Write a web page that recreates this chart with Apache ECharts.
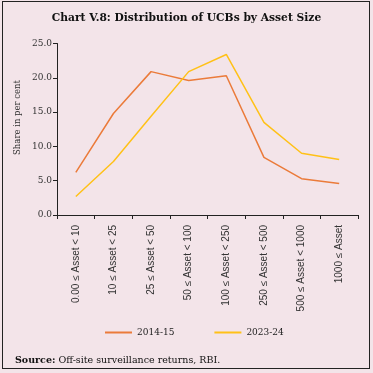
<!DOCTYPE html>
<html><head><meta charset="utf-8">
<script src="https://cdn.jsdelivr.net/npm/echarts@6/dist/echarts.min.js"></script>
<style>
html,body{margin:0;padding:0;background:#f3e4e9;}
#wrap{position:absolute;left:2px;top:1px;width:366px;height:366px;border:1px solid #222;box-sizing:content-box;}
#c{position:absolute;left:0;top:0;width:373px;height:373px;}
</style></head>
<body>
<div id="wrap"></div>
<div id="c"></div>
<script>
const categories = ["0.00 ≤ Asset < 10","10 ≤ Asset < 25","25 ≤ Asset < 50","50 ≤ Asset < 100","100 ≤ Asset < 250","250 ≤ Asset < 500","500 ≤ Asset < 1000","1000 ≤ Asset"];
const series2014 = [6.2, 14.8, 20.9, 19.6, 20.3, 8.4, 5.3, 4.6];
const series2023 = [2.7, 7.8, 14.4, 20.9, 23.4, 13.5, 9.0, 8.1];
const yTicks = [0,5,10,15,20,25];

const chart = echarts.init(document.getElementById('c'));
chart.setOption({
  backgroundColor: 'transparent',
  animation: false,
  title: [
    {text: 'Chart V.8: Distribution of UCBs by Asset Size', left: 'center', top: 8,
     textStyle: {fontFamily: 'DejaVu Serif', fontWeight: 'bold', fontSize: 10.7, color: '#111'}},
    {text: '{b|Source:} Off-site surveillance returns, RBI.', left: 10, top: 351,
     textStyle: {rich: {b: {fontFamily: 'DejaVu Serif', fontWeight: 'bold', fontSize: 9.5, color: '#111'}},
       fontFamily: 'DejaVu Serif', fontSize: 9.5, color: '#111', fontWeight: 'normal'}}
  ],
  graphic: [
    {type: 'text', x: 18, y: 117.5, rotation: Math.PI/2,
     style: {text: 'Share in per cent', fontFamily: 'DejaVu Serif', fontSize: 8.5, fill: '#333',
       align: 'center', verticalAlign: 'middle'}}
  ],
  legend: {
    top: 323, left: 100, itemGap: 40, itemWidth: 27, itemHeight: 2,
    icon: 'rect',
    textStyle: {fontFamily: 'DejaVu Serif', fontSize: 9, color: '#222'},
    data: ['2014-15','2023-24']
  },
  grid: {left: 57, right: 15, top: 43.5, bottom: 158, containLabel: false},
  xAxis: {
    type: 'category', data: categories, boundaryGap: true,
    axisLine: {lineStyle: {color: '#222', width: 1}},
    axisTick: {show: true, length: 4, lineStyle: {color: '#222'}},
    axisLabel: {rotate: 90, fontFamily: 'Liberation Sans', fontSize: 10, color: '#333', margin: 10}
  },
  yAxis: {
    type: 'value', min: 0, max: 25, interval: 5,
    axisLine: {show: true, lineStyle: {color: '#222'}},
    axisTick: {show: true, length: 4, lineStyle: {color: '#222'}},
    splitLine: {show: false},
    axisLabel: {fontFamily: 'DejaVu Serif', fontSize: 9, color: '#333', margin: 5,
      formatter: v => v.toFixed(1)}
  },
  series: [
    {name: '2014-15', type: 'line', data: series2014, symbol: 'none',
     lineStyle: {color: '#EB7B3A', width: 1.5}, itemStyle: {color: '#EB7B3A'}},
    {name: '2023-24', type: 'line', data: series2023, symbol: 'none',
     lineStyle: {color: '#FFC117', width: 1.5}, itemStyle: {color: '#FFC117'}}
  ]
});
</script>
</body></html>
